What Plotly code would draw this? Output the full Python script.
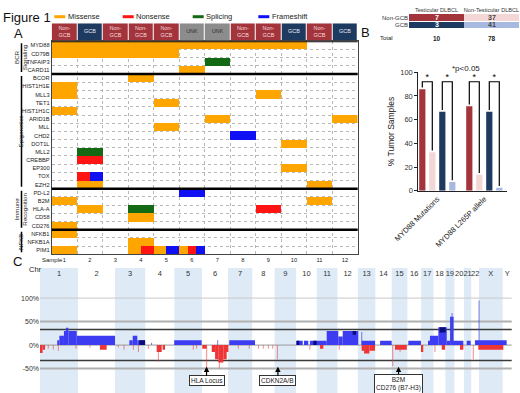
import plotly.graph_objects as go

W, H = 520, 393
FONT = "Arial, Liberation Sans, sans-serif"


def PX(p):
    return p / W


def PY(p):
    return 1 - p / H


# ======================= DATA =======================
# ---- Panel A: mutation matrix ----
samples = list(range(1, 13))
subtypes = ["Non-GCB", "GCB", "Non-GCB", "Non-GCB", "Non-GCB", "UNK", "UNK",
            "Non-GCB", "Non-GCB", "GCB", "Non-GCB", "GCB"]
genes_bcr = ["MYD88", "CD79B", "TNFAIP3", "CARD11"]
genes_epi = ["BCOR", "HIST1H1E", "MLL3", "TET1", "HIST1H1C", "ARID1B", "MLL", "CHD2",
             "DOT1L", "MLL2", "CREBBP", "EP300", "TOX", "EZH2"]
genes_immune = ["PD-L2", "B2M", "HLA-A", "CD58", "CD276"]
genes_nfkb = ["NFKB1", "NFKB1A", "PIM1"]
group_labels = ["BCR<br>Signaling", "Epigenetics", "Immune<br>Recognition", "NFKB"]
# codes per sample: M missense, N nonsense, S splicing, F frameshift
mutations = {
    "MYD88":    ["M", "M", "M", "M", "M", "M", "M", "M", "M", "M", "", ""],
    "CD79B":    ["M", "M", "M", "M", "M", "", "", "", "", "", "", ""],
    "TNFAIP3":  ["", "", "", "", "", "", "S", "", "", "", "", ""],
    "CARD11":   ["", "", "", "", "", "M", "", "", "", "", "", ""],
    "BCOR":     ["", "", "", "M", "", "", "", "", "", "", "", ""],
    "HIST1H1E": ["M", "", "", "", "", "", "", "", "", "", "", ""],
    "MLL3":     ["M", "", "", "", "", "", "", "", "M", "", "", ""],
    "TET1":     ["", "", "", "", "M", "", "", "", "", "", "", ""],
    "HIST1H1C": ["M", "", "", "", "", "", "", "", "", "", "", ""],
    "ARID1B":   ["", "", "", "", "", "", "M", "", "", "", "", "M"],
    "MLL":      ["", "", "", "", "M", "", "", "", "", "", "", ""],
    "CHD2":     ["", "", "", "", "", "", "", "F", "", "", "", ""],
    "DOT1L":    ["", "", "", "", "", "", "", "", "", "M", "", ""],
    "MLL2":     ["", "S", "", "", "", "", "", "", "", "", "", ""],
    "CREBBP":   ["", "N", "", "", "", "", "", "", "", "", "", ""],
    "EP300":    ["", "", "", "", "", "", "", "", "", "M", "", ""],
    "TOX":      ["", "NF", "", "", "", "", "", "", "", "", "", ""],
    "EZH2":     ["", "M", "", "", "", "", "", "", "", "", "M", ""],
    "PD-L2":    ["", "", "", "", "", "F", "", "", "", "", "", ""],
    "B2M":      ["M", "", "", "", "", "", "", "", "", "", "M", ""],
    "HLA-A":    ["", "M", "", "S", "", "", "", "", "N", "", "", ""],
    "CD58":     ["", "", "", "M", "", "", "", "", "", "", "", ""],
    "CD276":    ["M", "", "", "", "", "", "", "", "", "", "", ""],
    "NFKB1":    ["M", "", "", "", "", "", "", "", "", "", "", ""],
    "NFKB1A":   ["", "", "", "M", "", "", "", "", "", "", "", ""],
    "PIM1":     ["M", "", "", "MN", "MF", "MNF", "", "", "", "", "", ""],
}
mut_codes = ["M", "N", "S", "F"]
mut_names = ["Missense", "Nonsense", "Splicing", "Frameshift"]

# ---- Panel B: table ----
table_rows = ["Non-GCB", "GCB"]
table_cols = ["Testicular DLBCL", "Non-Testicular DLBCL"]
table_counts = [[7, 37], [3, 41]]

# ---- Panel B: bar chart (% of tumour samples) ----
bar_groups = ["MYD88 Mutations", "MYD88 L265P allele"]
pct_test_nongcb = [85.7, 71.4]
pct_nontest_nongcb = [32.4, 13.5]
pct_test_gcb = [66.7, 66.7]
pct_nontest_gcb = [7.3, 2.4]

# ---- Panel C: copy number (genome position in Mb, % of samples) ----
chrom_names = [str(i) for i in range(1, 23)] + ["X", "Y"]
chrom_len_mb = [249, 243, 198, 191, 181, 171, 159, 146, 141, 136, 135, 134,
                115, 107, 103, 90, 81, 78, 59, 63, 48, 51, 155, 59]
gain_start = [113, 127, 157, 175, 186, 241, 586, 608, 638, 880, 1241, 1679, 1731, 1770, 1880,
              1956, 1985, 2109, 2230, 2415, 2546, 2557, 2612, 2667, 2689, 2712, 2721, 2798, 2852]
gain_end = [127, 157, 175, 186, 241, 492, 608, 638, 689, 1060, 1410, 1723, 1759, 1880, 1956,
            1985, 2087, 2197, 2306, 2498, 2557, 2612, 2667, 2689, 2712, 2721, 2776, 2824, 3060]
gain_pct = [10, 20, 30, 37, 30, 20, 10, 20, 10, 10, 10, 9, 9, 9, 30,
            18, 30, 9, 9, 9, 9, 20, 38, 9, 60, 9, 9, 9, 10]
amp_start = [651, 1685, 1792, 2050, 2620]
amp_end = [689, 1700, 1814, 2072, 2660]
amp_low = [0, 0, 0, 22, 27]
amp_high = [10, 9, 9, 30, 38]
gain_spike_pos = [732, 1165, 2110, 2702, 2879]
gain_spike_pct = [5, 10, 28, 68, 95]
loss_start = [0, 17, 393, 765, 804, 1064, 1126, 1148, 1169, 1202, 1224, 1836,
              2109, 2125, 2160, 2328, 2503, 2634, 2754, 2874]
loss_end = [17, 33, 437, 798, 820, 1093, 1148, 1169, 1202, 1224, 1235, 1858,
            2125, 2160, 2197, 2405, 2513, 2656, 2776, 3038]
loss_pct = [-17, -10, -10, -15, -10, -8, -15, -30, -37, -30, -15, -8,
            -12, -18, -12, -10, -15, -10, -10, -10]
loss_spike_pos = [54, 87, 120, 236, 328, 513, 551, 612, 645, 710, 776, 1005, 1027, 1093, 1176,
                  1300, 1372, 1432, 1464, 1497, 1526, 1556, 1770, 1962, 2313, 2361, 2590, 2841]
loss_spike_pct = [-8, -10, -12, -8, -5, -5, -10, -10, -15, -8, -35, -10, -8, -50, -50,
                  -8, -8, -8, -8, -8, -8, -30, -10, -10, -45, -15, -15, -30]
locus_labels = ["HLA Locus", "CDKN2A/B", "B2M<br>CD276 (B7-H3)"]
locus_chrom = ["6", "9", "15"]
locus_pos_mb = [30, 22, 45]
threshold_lines = [100, 50, 33, 0, -33, -50]

# ======================= STYLE =======================
mut_colors = ["#ffa500", "#ff1414", "#146914", "#1010f5"]
sub_order = ["Non-GCB", "GCB", "UNK"]
sub_colors = ["#a3343c", "#1f3a60", "#8c8c8c"]
sub_text = {"Non-GCB": "Non-<br>GCB", "GCB": "GCB", "UNK": "UNK"}
sub_text_color = {"Non-GCB": "#f3dada", "GCB": "#e6ecf5", "UNK": "#333333"}
table_colors = ["#a3343c", "#f3d6d6", "#1f3a60", "#a7b9e0"]
bar_colors = ["#a3343c", "#f3d6d6", "#1f3a60", "#a7b9e0"]
gain_color = "#3c3cf2"
amp_color = "#0c0c78"
loss_color = "#ee3535"
spike_loss_color = "rgba(235,60,60,0.65)"
spike_gain_color = "rgba(70,70,220,0.8)"
band_color = "#deebf7"


def discrete_scale(colors):
    n = len(colors)
    cs = []
    for i, c in enumerate(colors):
        cs += [[i / n, c], [(i + 1) / n, c]]
    return cs


fig = go.Figure()

# ---------------- Panel A ----------------
groups = [genes_bcr, genes_epi, genes_immune, genes_nfkb]
genes = [g for grp in groups for g in grp]
SUB = 6
zA = []
for g in genes:
    row = []
    for codes in mutations[g]:
        for k in range(SUB):
            row.append(mut_codes.index(codes[k * len(codes) // SUB]) + 1 if codes else None)
    zA.append(row)
xs = [0.5 + (k + 0.5) / SUB for k in range(len(samples) * SUB)]
fig.add_trace(go.Heatmap(x=xs, y=list(range(len(genes))), z=zA,
                         colorscale=discrete_scale(mut_colors), zmin=0.5, zmax=len(mut_codes) + 0.5,
                         showscale=False, hoverinfo="skip", xaxis="x", yaxis="y"))

fig.add_trace(go.Heatmap(x=samples, y=[0], z=[[sub_order.index(s) for s in subtypes]],
                         colorscale=discrete_scale(sub_colors), zmin=-0.5, zmax=2.5,
                         showscale=False, xgap=1, hoverinfo="skip", xaxis="x2", yaxis="y2"))
fig.add_trace(go.Scatter(x=samples, y=[0] * len(samples), mode="text",
                         text=[sub_text[s] for s in subtypes],
                         textfont=dict(size=5.5, family=FONT,
                                       color=[sub_text_color[s] for s in subtypes]),
                         hoverinfo="skip", xaxis="x2", yaxis="y2"))

# ---------------- Panel B table ----------------
zT = [[0, 1], [2, 3]]
fig.add_trace(go.Heatmap(x=[0, 1], y=[0, 1], z=zT, text=table_counts,
                         texttemplate="<b>%{text}</b>", textfont=dict(size=7, family=FONT),
                         colorscale=discrete_scale(table_colors), zmin=-0.5, zmax=3.5,
                         showscale=False, ygap=1, hoverinfo="skip", xaxis="x3", yaxis="y3"))
totals = [sum(r[c] for r in table_counts) for c in range(len(table_cols))]

# ---------------- Panel B bars ----------------
series_values = [pct_test_nongcb, pct_nontest_nongcb, pct_test_gcb, pct_nontest_gcb]
group_centers = [1.5, 6.2]
bar_offsets = [-1.5, -0.5, 0.5, 1.5]
for si, vals in enumerate(series_values):
    fig.add_trace(go.Bar(x=[c + bar_offsets[si] for c in group_centers], y=vals, width=0.62,
                         marker=dict(color=bar_colors[si], line=dict(width=0)),
                         hoverinfo="skip", xaxis="x4", yaxis="y4"))
bx, by, sx, sy = [], [], [], []
for gi, c in enumerate(group_centers):
    for a, b in [(0, 1), (2, 3)]:
        xa, xb = c + bar_offsets[a], c + bar_offsets[b]
        va, vb = series_values[a][gi], series_values[b][gi]
        bx += [xa, xa, xb, xb, None]
        by += [va + 1.5, 92, 92, vb + 1.5, None]
        sx.append((xa + xb) / 2)
        sy.append(95.5)
fig.add_trace(go.Scatter(x=bx, y=by, mode="lines", line=dict(color="black", width=1.2),
                         cliponaxis=False, hoverinfo="skip", xaxis="x4", yaxis="y4"))
fig.add_trace(go.Scatter(x=sx, y=sy, mode="text", text=["*"] * len(sx),
                         textposition="middle center",
                         textfont=dict(size=9, family=FONT, color="black"),
                         cliponaxis=False, hoverinfo="skip", xaxis="x4", yaxis="y4"))

# ---------------- Panel C ----------------
chrom_start = []
acc = 0
for L in chrom_len_mb:
    chrom_start.append(acc)
    acc += L
genome_len = acc


def mid(a, b):
    return [(x + y) / 2 for x, y in zip(a, b)]


def wid(a, b):
    return [y - x for x, y in zip(a, b)]


fig.add_trace(go.Bar(x=mid(gain_start, gain_end), y=gain_pct, width=wid(gain_start, gain_end),
                     marker=dict(color=gain_color, line=dict(width=0)), hoverinfo="skip",
                     xaxis="x5", yaxis="y5"))
fig.add_trace(go.Bar(x=mid(loss_start, loss_end), y=loss_pct, width=wid(loss_start, loss_end),
                     marker=dict(color=loss_color, line=dict(width=0)), hoverinfo="skip",
                     xaxis="x5", yaxis="y5"))
fig.add_trace(go.Bar(x=mid(amp_start, amp_end), y=[h - l for h, l in zip(amp_high, amp_low)],
                     base=amp_low, width=wid(amp_start, amp_end),
                     marker=dict(color=amp_color, line=dict(width=0)), hoverinfo="skip",
                     xaxis="x5", yaxis="y5"))
fig.add_trace(go.Bar(x=loss_spike_pos, y=loss_spike_pct, width=[6] * len(loss_spike_pos),
                     marker=dict(color=spike_loss_color, line=dict(width=0)), hoverinfo="skip",
                     xaxis="x5", yaxis="y5"))
fig.add_trace(go.Bar(x=gain_spike_pos, y=gain_spike_pct, width=[6] * len(gain_spike_pos),
                     marker=dict(color=spike_gain_color, line=dict(width=0)), hoverinfo="skip",
                     xaxis="x5", yaxis="y5"))
fig.add_trace(go.Scatter(x=[s + L / 2 for s, L in zip(chrom_start, chrom_len_mb)],
                         y=[150] * len(chrom_names), mode="text", text=chrom_names,
                         textfont=dict(size=7.5, family=FONT, color="#333"),
                         hoverinfo="skip", xaxis="x5", yaxis="y5"))

shapes = []
# chromosome bands
for i, (s, L) in enumerate(zip(chrom_start, chrom_len_mb)):
    if i % 2 == 0:
        shapes.append(dict(type="rect", xref="x5", yref="y5 domain", x0=s, x1=s + L, y0=0, y1=1,
                           fillcolor=band_color, line=dict(width=0), layer="below"))
line_style = {100: ("#c8c8c8", 1), 50: ("#b0b0b0", 2), -50: ("#b0b0b0", 2),
              33: ("#3a3a3a", 1.5), -33: ("#3a3a3a", 1.5), 0: ("#9a9a9a", 1)}
for v in threshold_lines:
    col, w = line_style[v]
    shapes.append(dict(type="line", xref="x5 domain", yref="y5", x0=0, x1=1, y0=v, y1=v,
                       line=dict(color=col, width=w), layer="below"))

# Panel A separators and group bars
bounds = []
acc = 0
for grp in groups:
    bounds.append((acc, acc + len(grp) - 1))
    acc += len(grp)
shapes.append(dict(type="line", xref="x domain", yref="y", x0=0, x1=1, y0=-0.5, y1=-0.5,
                   line=dict(color="black", width=2)))
for (a, b) in bounds[:-1]:
    shapes.append(dict(type="line", xref="x domain", yref="y", x0=0, x1=1, y0=b + 0.5, y1=b + 0.5,
                       line=dict(color="black", width=2.6)))
for (a, b) in bounds:
    shapes.append(dict(type="line", xref="paper", yref="y", x0=PX(21.5), x1=PX(21.5),
                       y0=a - 0.25, y1=b + 0.25, line=dict(color="black", width=1.5)))

# legend swatches
legend_x = [54.3, 122.7, 192.7, 258.3]
annotations = []
for lx, name, col in zip(legend_x, mut_names, mut_colors):
    shapes.append(dict(type="rect", xref="paper", yref="paper", x0=PX(lx), x1=PX(lx + 11),
                       y0=PY(18.2), y1=PY(15.2), fillcolor=col, line=dict(width=0)))
    annotations.append(dict(text=name, x=PX(lx + 11.5), y=PY(16.7), xref="paper", yref="paper",
                            xanchor="left", yanchor="middle", showarrow=False,
                            font=dict(size=7.5, color="#222")))

# group labels
group_lx = [11, 14.5, 11, 14.5]
for (a, b), lab, lx in zip(bounds, group_labels, group_lx):
    annotations.append(dict(text=lab, x=PX(lx), y=(a + b) / 2, xref="paper", yref="y",
                            textangle=-90, showarrow=False, font=dict(size=6.2, color="#222")))

annotations += [
    dict(text="Figure 1", x=PX(1), y=PY(8), xref="paper", yref="paper", xanchor="left",
         showarrow=False, font=dict(size=13, color="#111")),
    dict(text="A", x=PX(12), y=PY(24), xref="paper", yref="paper",
         showarrow=False, font=dict(size=13, color="#111")),
    dict(text="B", x=PX(372), y=PY(23), xref="paper", yref="paper",
         showarrow=False, font=dict(size=13, color="#111")),
    dict(text="C", x=PX(11), y=PY(271), xref="paper", yref="paper",
         showarrow=False, font=dict(size=13, color="#111")),
    dict(text="Sample", x=PX(40), y=PY(260), xref="paper", yref="paper",
         showarrow=False, font=dict(size=6, color="#222")),
    dict(text="Total", x=PX(395), y=PY(33.3), xref="paper", yref="paper",
         showarrow=False, font=dict(size=6, color="#222")),
    dict(text="*p<0.05", x=PX(482), y=PY(62.5), xref="paper", yref="paper",
         showarrow=False, font=dict(size=8, color="#222")),
    dict(text="Chr", x=PX(26.5), y=PY(275.5), xref="paper", yref="paper",
         showarrow=False, font=dict(size=7.5, color="#222")),
]
for ci, t in enumerate(totals):
    annotations.append(dict(text="<b>%d</b>" % t, x=ci, y=PY(33.3), xref="x3", yref="paper",
                            showarrow=False, font=dict(size=6.5, color="#222")))
for lab, ch, pos in zip(locus_labels, locus_chrom, locus_pos_mb):
    gx = chrom_start[chrom_names.index(ch)] + pos
    two = "<br>" in lab
    annotations.append(dict(text=lab, x=gx, y=-46, xref="x5", yref="y5", showarrow=True,
                            ax=0, ay=17 if two else 14, arrowhead=2, arrowsize=0.9,
                            arrowwidth=1.2, arrowcolor="black", bordercolor="#333",
                            borderwidth=1, borderpad=1, bgcolor="white",
                            font=dict(size=6.5, color="#222")))

axis_font = dict(size=5.7, color="#222", family=FONT)
fig.update_layout(
    width=W, height=H, margin=dict(l=0, r=0, t=0, b=0, autoexpand=False),
    paper_bgcolor="white", plot_bgcolor="rgba(0,0,0,0)",
    font=dict(family=FONT, color="#222"), showlegend=False, barmode="overlay",
    shapes=shapes, annotations=annotations,
    xaxis=dict(domain=[PX(51.7), PX(357.7)], range=[0.5, 12.5], anchor="y", automargin=False,
               tickvals=samples, tickfont=axis_font, ticks="", showgrid=False, zeroline=False,
               showline=True, mirror=True, linecolor="#444", linewidth=1,
               minor=dict(tickvals=[s + 0.5 for s in [0] + samples], showgrid=True,
                          gridcolor="#b8b8b8", griddash="dot", gridwidth=1, ticks="")),
    yaxis=dict(domain=[PY(254.3), PY(41.3)], range=[len(genes) - 0.5, -0.5], anchor="x",
               automargin=False,
               tickvals=list(range(len(genes))), ticktext=genes, tickfont=axis_font, ticks="",
               showgrid=False, zeroline=False, showline=True, mirror=True, linecolor="#444",
               minor=dict(tickvals=[i - 0.5 for i in range(len(genes) + 1)], showgrid=True,
                          gridcolor="#b8b8b8", griddash="dot", gridwidth=1, ticks="")),
    xaxis2=dict(domain=[PX(51.7), PX(357.7)], range=[0.5, 12.5], anchor="y2", visible=False,
                automargin=False),
    yaxis2=dict(domain=[PY(40.7), PY(23.3)], range=[-0.5, 0.5], anchor="x2", visible=False,
                automargin=False),
    xaxis3=dict(domain=[PX(409), PX(519)], range=[-0.5, 1.5], anchor="y3", side="top",
                automargin=False, ticklabeloverflow="allow",
                tickvals=[0, 1], ticktext=table_cols, tickfont=dict(size=5.6, color="#333"),
                ticks="", showgrid=False, zeroline=False, showline=False),
    yaxis3=dict(domain=[PY(29), PY(14)], range=[1.5, -0.5], anchor="x3", automargin=False,
                ticklabeloverflow="allow",
                tickvals=[0, 1], ticktext=table_rows, tickfont=dict(size=6, color="#333"),
                ticks="", showgrid=False, zeroline=False, showline=False),
    xaxis4=dict(domain=[PX(418.3), PX(506.7)], range=[-0.4, 8.44], anchor="y4",
                automargin=False,
                tickvals=group_centers, ticktext=bar_groups, tickangle=-45,
                tickfont=dict(size=7.5, color="#222"), ticks="", showgrid=False,
                zeroline=False, showline=True, linecolor="#222", linewidth=1),
    yaxis4=dict(domain=[PY(190.7), PY(72.3)], range=[0, 100], anchor="x4", automargin=False,
                tickvals=[0, 20, 40, 60, 80, 100], tickfont=dict(size=7.5, color="#333"),
                ticks="outside", ticklen=3, tickcolor="#222", showgrid=False, zeroline=False,
                showline=True, linecolor="#222", linewidth=1,
                title=dict(text="% Tumor Samples", font=dict(size=8.5, color="#222"), standoff=4)),
    xaxis5=dict(domain=[PX(40), PX(511.7)], range=[0, genome_len], anchor="y5",
                visible=False, automargin=False),
    yaxis5=dict(domain=[PY(393), PY(268)], range=[-102, 164], anchor="x5", automargin=False,
                tickvals=[-100, -50, 0, 50, 100],
                ticktext=["-100%", "-50%", "0%", "50%", "100%"],
                tickfont=dict(size=7, color="#333"), ticks="", showgrid=False,
                zeroline=False, showline=False),
)

fig.write_html("out.html", config={"displayModeBar": False},
               post_script="document.body.style.margin='0';document.body.style.overflow='hidden';")
